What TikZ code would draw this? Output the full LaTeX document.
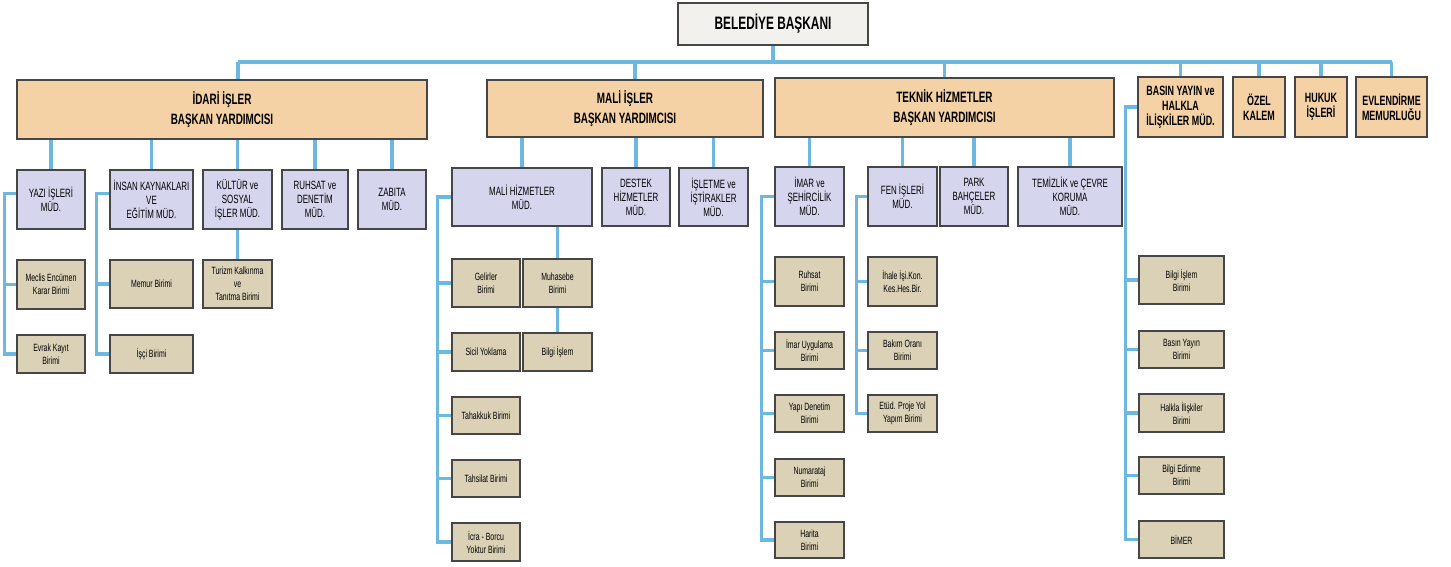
\documentclass[tikz,border=0pt]{standalone}
\usepackage{fontspec}
\setmainfont{Liberation Sans}[FakeStretch=0.66]
\definecolor{orgpeach}{RGB}{244,210,165}
\definecolor{orglilac}{RGB}{213,213,238}
\definecolor{orgkhaki}{RGB}{218,209,182}
\definecolor{orgblue}{RGB}{108,184,224}
\definecolor{orgedge}{RGB}{70,70,70}
\definecolor{orgpaper}{RGB}{243,241,238}

\begin{document}
\begin{tikzpicture}[x=1pt, y=-1pt,
  box/.style={draw=orgedge, line width=1.2pt, inner sep=1pt, align=center},
  wh/.style 2 args={minimum width=#1pt, minimum height=#2pt},
  chief/.style={box, fill=orgpaper, line width=2pt, font=\fontsize{18}{20}\selectfont\bfseries},
  vp/.style={box, fill=orgpeach, font=\fontsize{15}{20}\selectfont\bfseries},
  office/.style={box, fill=orgpeach, font=\fontsize{13.5}{15}\selectfont\bfseries},
  mud/.style={box, fill=orglilac, font=\fontsize{12}{14}\selectfont},
  unit/.style={box, fill=orgkhaki, font=\fontsize{10.5}{13}\selectfont},
  link/.style={draw=orgblue, line width=3.5pt}]
\fill[white] (0,0) rectangle (1451,567);
\useasboundingbox (0,0) rectangle (1451,567);
% Top
\node[chief, wh={190}{42}] (baskan) at (773,24) {BELEDİYE BAŞKANI};
\coordinate (bus) at (773,62);
% Vice presidents and offices
\node[vp, wh={410}{59}] (idari) at (222,109.5) {İDARİ İŞLER\\BAŞKAN YARDIMCISI};
\node[vp, wh={276}{57}] (mali) at (625,108.5) {MALİ İŞLER\\BAŞKAN YARDIMCISI};
\node[vp, wh={339}{59}] (teknik) at (944.5,107.5) {TEKNİK HİZMETLER\\BAŞKAN YARDIMCISI};
\node[office, wh={85}{60}] (basin) at (1180.5,107) {BASIN YAYIN ve\\HALKLA\\İLİŞKİLER MÜD.};
\node[office, wh={52}{60}] (ozel) at (1259,107) {ÖZEL\\KALEM};
\node[office, wh={52}{60}] (hukuk) at (1321,107) {HUKUK\\İŞLERİ};
\node[office, wh={71}{60}] (evlen) at (1391.5,107) {EVLENDİRME\\MEMURLUĞU};
% Idari isler
\node[mud, wh={68}{59}] (yazi) at (51,199.5) {YAZI İŞLERİ\\MÜD.};
\node[mud, wh={83}{59}] (insan) at (151.5,199.5) {İNSAN KAYNAKLARI\\VE\\EĞİTİM MÜD.};
\node[mud, wh={69}{59}] (kultur) at (237.5,199.5) {KÜLTÜR ve\\SOSYAL\\İŞLER MÜD.};
\node[mud, wh={66}{59}] (ruhsatd) at (315,199.5) {RUHSAT ve\\DENETİM\\MÜD.};
\node[mud, wh={68}{59}] (zabita) at (392,199.5) {ZABITA\\MÜD.};
\node[unit, wh={68}{49}] (meclis) at (51,284.5) {Meclis Encümen\\Karar Birimi};
\node[unit, wh={68}{38}] (evrak) at (51,354) {Evrak Kayıt\\Birimi};
\node[unit, wh={83}{48}] (memur) at (151.5,284) {Memur Birimi};
\node[unit, wh={83}{38}] (isci) at (151.5,354) {İşçi Birimi};
\node[unit, wh={69}{48}] (turizm) at (237.5,284) {Turizm Kalkınma\\ve\\Tanıtma Birimi};
% Mali isler
\node[mud, wh={140}{58}] (malihiz) at (522,197) {MALİ HİZMETLER\\MÜD.};
\node[mud, wh={68}{58}] (destek) at (636,197) {DESTEK\\HİZMETLER\\MÜD.};
\node[mud, wh={69}{58}] (isletme) at (713.5,197) {İŞLETME ve\\İŞTİRAKLER\\MÜD.};
\node[unit, wh={68}{48}] (gelirler) at (486,283) {Gelirler\\Birimi};
\node[unit, wh={69}{48}] (muhasebe) at (557.5,283) {Muhasebe\\Birimi};
\node[unit, wh={68}{38}] (sicil) at (486,352) {Sicil Yoklama};
\node[unit, wh={69}{38}] (bilgi) at (557.5,352) {Bilgi İşlem};
\node[unit, wh={68}{37}] (tahakkuk) at (486,415.5) {Tahakkuk Birimi};
\node[unit, wh={68}{37}] (tahsilat) at (486,478.5) {Tahsilat Birimi};
\node[unit, wh={68}{38}] (icra) at (486,542) {İcra - Borcu\\Yoktur Birimi};
% Teknik hizmetler
\node[mud, wh={69}{59}] (imar) at (809.5,196.5) {İMAR ve\\ŞEHİRCİLİK\\MÜD.};
\node[mud, wh={69}{59}] (fen) at (902.5,196.5) {FEN İŞLERİ\\MÜD.};
\node[mud, wh={68}{59}] (park) at (974,196.5) {PARK\\BAHÇELER\\MÜD.};
\node[mud, wh={104}{59}] (temiz) at (1070,196.5) {TEMİZLİK ve ÇEVRE\\KORUMA\\MÜD.};
\node[unit, wh={69}{49}] (ruhsatb) at (809.5,281.5) {Ruhsat\\Birimi};
\node[unit, wh={69}{37}] (imaruyg) at (809.5,350.5) {İmar Uygulama\\Birimi};
\node[unit, wh={69}{37}] (yapi) at (809.5,413.5) {Yapı Denetim\\Birimi};
\node[unit, wh={69}{37}] (numara) at (809.5,477.5) {Numarataj\\Birimi};
\node[unit, wh={69}{36}] (harita) at (809.5,540) {Harita\\Birimi};
\node[unit, wh={69}{49}] (ihale) at (902.5,281.5) {İhale İşi.Kon.\\Kes.Hes.Bir.};
\node[unit, wh={69}{37}] (bakim) at (902.5,350.5) {Bakım Oranı\\Birimi};
\node[unit, wh={69}{37}] (etud) at (902.5,413.5) {Etüd. Proje Yol\\Yapım Birimi};
% Basin yayin
\node[unit, wh={85}{48}] (bilgiis) at (1181.5,280) {Bilgi İşlem\\Birimi};
\node[unit, wh={85}{37}] (basinb) at (1181.5,349.5) {Basın Yayın\\Birimi};
\node[unit, wh={85}{38}] (halkla) at (1181.5,413) {Halkla İlişkiler\\Birimi};
\node[unit, wh={85}{37}] (edinme) at (1181.5,475.5) {Bilgi Edinme\\Birimi};
\node[unit, wh={85}{37}] (bimer) at (1181.5,539.5) {BİMER};
% Connectors
\draw[link] (baskan) -- (bus);
\draw[link] ([xshift=16pt]idari.north |- bus) -- (evlen.north |- bus);
\draw[link] ([xshift=16pt]idari.north) -- ([xshift=16pt]idari.north |- bus);
\draw[link] ([xshift=10pt]mali.north) -- ([xshift=10pt]mali.north |- bus);
\foreach \n in {teknik,basin,ozel,hukuk,evlen}
  \draw[link] (\n.north) -- (\n.north |- bus);
\foreach \n in {yazi,insan,kultur,ruhsatd,zabita}
  \draw[link] (\n.north) -- (\n.north |- idari.south);
\foreach \n in {malihiz,destek,isletme}
  \draw[link] (\n.north) -- (\n.north |- mali.south);
\foreach \n in {imar,fen,park,temiz}
  \draw[link] (\n.north) -- (\n.north |- teknik.south);
\draw[link] ([yshift=6pt]yazi.west) -| ([xshift=-12pt]evrak.west) -- (evrak.west);
\draw[link] (meclis.west) -- ++(-12,0);
\draw[link] ([yshift=6pt]insan.west) -| ([xshift=-13pt]isci.west) -- (isci.west);
\draw[link] (memur.west) -- ++(-13,0);
\draw[link] (kultur) -- (turizm);
\draw[link] (malihiz.west) -| ([xshift=-14pt]icra.west) -- (icra.west);
\foreach \n in {gelirler,sicil,tahakkuk,tahsilat}
  \draw[link] (\n.west) -- ++(-14,0);
\draw[link] (muhasebe.north |- malihiz.south) -- (muhasebe.north);
\draw[link] (muhasebe) -- (bilgi);
\draw[link] (imar.west) -| ([xshift=-13pt]harita.west) -- (harita.west);
\foreach \n in {ruhsatb,imaruyg,yapi,numara}
  \draw[link] (\n.west) -- ++(-13,0);
\draw[link] (fen.west) -| ([xshift=-11pt]etud.west) -- (etud.west);
\foreach \n in {ihale,bakim}
  \draw[link] (\n.west) -- ++(-11,0);
\draw[link] (basin.west) -| ([xshift=-13pt]bimer.west) -- (bimer.west);
\foreach \n in {bilgiis,basinb,halkla,edinme}
  \draw[link] (\n.west) -- ++(-13,0);
\end{tikzpicture}
\end{document}
